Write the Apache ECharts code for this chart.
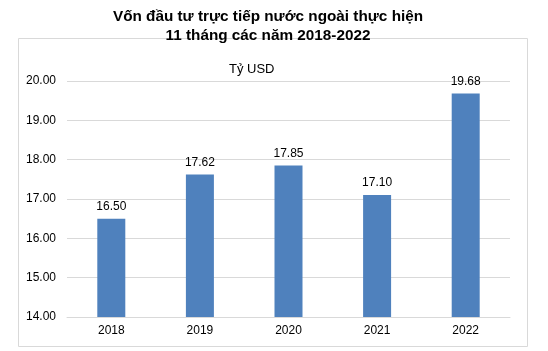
<!DOCTYPE html>
<html>
<head>
<meta charset="utf-8">
<title>Vốn đầu tư trực tiếp nước ngoài</title>
<script src="https://cdn.jsdelivr.net/npm/echarts@6/dist/echarts.min.js"></script>
<style>
  html, body { margin: 0; padding: 0; background: #fff; }
  #main { width: 548px; height: 351px; }
</style>
</head>
<body>
<div id="main"></div>
<script>
// số liệu 11 tháng
var years = ['2018', '2019', '2020', '2021', '2022'];
var values = [16.50, 17.62, 17.85, 17.10, 19.68];
var yTicks = [14, 20, 1]; // min, max, interval

var chart = echarts.init(document.getElementById('main'));
chart.setOption({
    animation: false,
    textStyle: { fontFamily: 'Liberation Sans, Arial, sans-serif' },
    title: {
        text: 'Vốn đầu tư trực tiếp nước ngoài thực hiện\n11 tháng các năm 2018-2022',
        left: 263,
        textAlign: 'center',
        top: 2,
        textStyle: { fontSize: 15.3, fontWeight: 'bold', color: '#000', lineHeight: 19 }
    },
    graphic: [
        {
            type: 'rect',
            shape: { x: 18.5, y: 38.5, width: 509, height: 308 },
            style: { fill: 'none', stroke: '#D9D9D9', lineWidth: 1 },
            silent: true
        },
        {
            type: 'text',
            left: 229,
            top: 63,
            style: { text: 'Tỷ USD', fontSize: 13, fill: '#000', fontFamily: 'Liberation Sans, Arial, sans-serif' }
        }
    ],
    grid: { left: 67, right: 38, top: 81, bottom: 34, containLabel: false },
    xAxis: {
        type: 'category',
        data: years,
        axisLine: { lineStyle: { color: '#D9D9D9' } },
        axisTick: { show: false },
        axisLabel: { color: '#000', fontSize: 12, margin: 8 }
    },
    yAxis: {
        type: 'value',
        min: yTicks[0],
        max: yTicks[1],
        interval: yTicks[2],
        axisLine: { show: false },
        axisTick: { show: false },
        splitLine: { lineStyle: { color: '#D9D9D9' } },
        axisLabel: {
            color: '#000', fontSize: 12, margin: 11,
            formatter: function (v) { return v.toFixed(2); }
        }
    },
    series: [{
        type: 'bar',
        data: values,
        barWidth: 28,
        itemStyle: { color: '#4F81BD' },
        label: {
            show: true,
            position: 'top',
            distance: 6,
            color: '#000',
            fontSize: 12,
            formatter: function (p) { return p.value.toFixed(2); }
        }
    }]
});
</script>
</body>
</html>
